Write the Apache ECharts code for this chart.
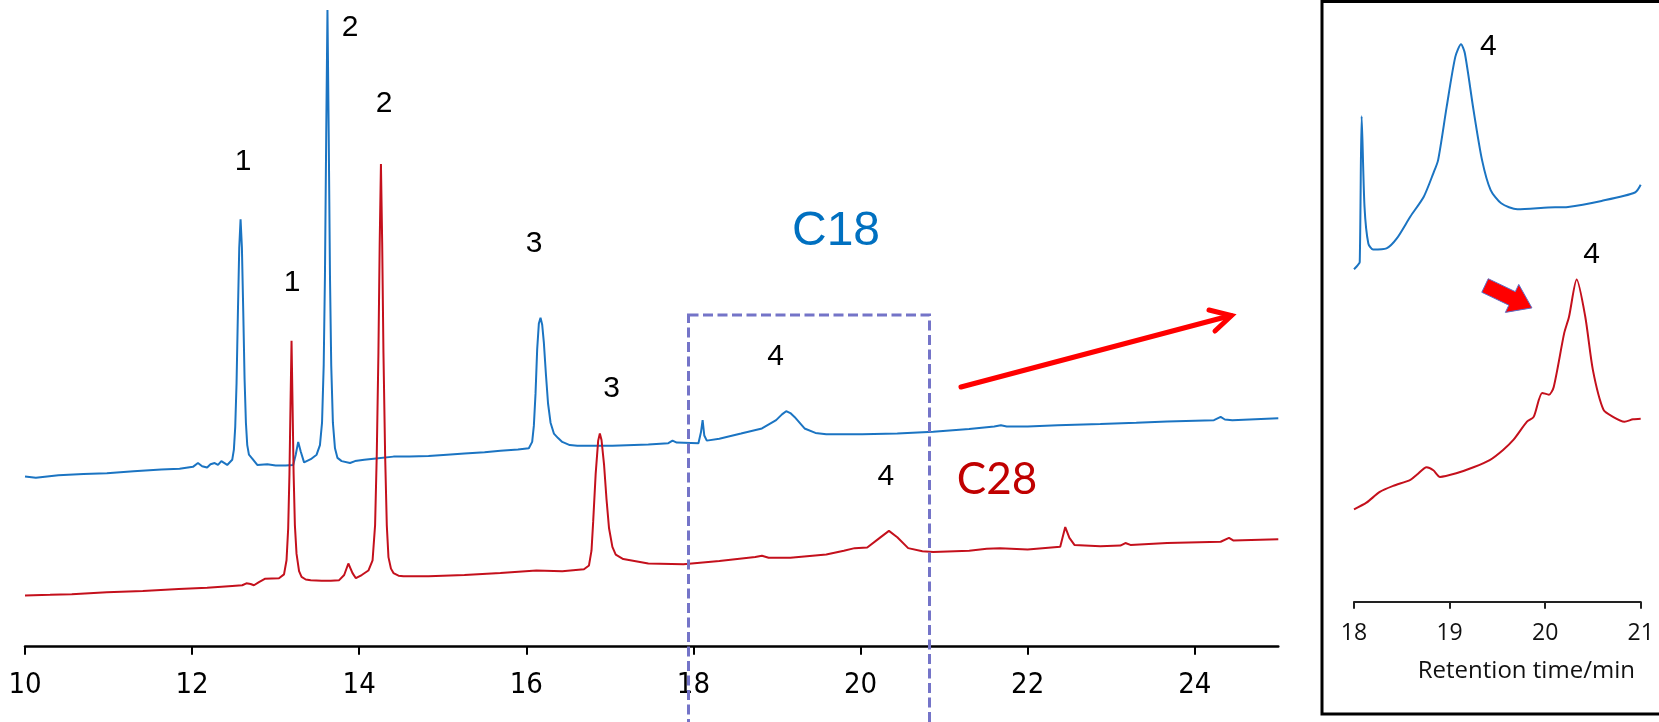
<!DOCTYPE html>
<html>
<head>
<meta charset="utf-8">
<script src="https://cdn.jsdelivr.net/npm/echarts@6/dist/echarts.min.js"></script>
<style>
html,body{margin:0;padding:0;background:#fff;}
#chart{width:1659px;height:722px;}
</style>
</head>
<body>
<div id="chart"></div>
<script>
// ---- main chromatogram (retention time / min, signal in arbitrary units) ----
const c18Time = [10.00,10.13,10.40,10.70,10.98,11.30,11.63,11.85,12.01,12.07,12.12,12.18,12.22,12.27,12.31,12.35,12.42,12.48,
  12.50,12.516,12.532,12.548,12.564,12.58,12.596,12.612,12.628,12.644,12.66,12.68,12.72,12.78,12.90,13.00,13.12,13.21,13.24,13.27,13.30,13.34,13.42,13.49,
  13.53,13.555,13.575,13.59,13.605,13.62,13.635,13.65,13.665,13.685,13.71,13.74,13.79,13.89,13.95,14.06,14.20,14.41,14.60,14.83,15.05,15.26,15.50,15.69,15.90,16.03,
  16.07,16.09,16.11,16.13,16.15,16.17,16.19,16.21,16.235,16.26,16.29,16.33,16.38,16.43,16.52,16.61,17.03,17.46,17.70,17.75,17.80,18.06,18.09,18.11,18.13,18.16,
  18.31,18.57,18.82,18.99,19.06,19.11,19.16,19.21,19.33,19.46,19.59,20.02,20.44,20.87,21.30,21.60,21.68,21.75,22.00,22.36,22.87,23.30,23.67,24.23,24.31,24.36,24.45,25.00];
const c18Signal = [26.6,26.4,26.8,27.0,27.1,27.4,27.7,27.8,28.1,28.7,28.2,28.0,28.5,28.7,28.4,29.0,28.4,29.2,
  30.8,34.3,41.2,52.1,62.3,66.8,62.4,52.5,41.8,35.0,31.5,30.0,29.4,28.4,28.5,28.3,28.3,28.4,30.0,32.0,30.5,28.8,29.3,30.0,
  31.5,35,44,58,80,99.5,80,58,44,35,31,29.5,29.0,28.7,29.0,29.2,29.4,29.7,29.7,29.8,30.0,30.2,30.4,30.6,30.8,31.0,
  32.0,34.5,39.5,46.5,50.5,51.4,50.3,47.5,42.5,38.0,35.0,33.3,32.6,32.0,31.5,31.4,31.4,31.6,31.8,32.2,31.9,31.8,33.5,35.4,33.0,32.2,
  32.5,33.3,34.1,35.4,36.3,36.8,36.5,35.9,34.1,33.4,33.2,33.2,33.3,33.6,34.0,34.4,34.6,34.4,34.4,34.6,34.8,35.0,35.2,35.4,35.9,35.5,35.4,35.7];

const c28Time = [10.00,10.30,10.56,10.98,11.41,11.84,12.18,12.48,12.60,12.65,12.70,12.74,12.80,12.87,13.04,13.10,
  13.13,13.15,13.165,13.178,13.19,13.202,13.215,13.23,13.25,13.28,13.31,13.36,13.42,13.55,13.66,13.76,13.82,13.87,13.92,13.96,14.03,14.11,
  14.16,14.19,14.21,14.23,14.245,14.26,14.275,14.29,14.31,14.33,14.35,14.38,14.41,14.47,14.53,14.83,15.26,15.69,16.12,16.43,16.69,
  16.75,16.78,16.80,16.83,16.86,16.88,16.90,16.93,16.96,16.99,17.03,17.07,17.16,17.46,17.88,18.31,18.74,18.82,18.90,19.16,19.59,19.80,19.93,
  20.08,20.23,20.34,20.44,20.57,20.74,20.87,21.30,21.51,21.67,22.00,22.39,22.45,22.50,22.56,22.87,23.11,23.17,23.23,23.67,24.31,24.41,24.46,25.00];
const c28Signal = [8.0,8.1,8.2,8.5,8.7,9.0,9.2,9.5,9.6,9.9,9.8,9.6,10.1,10.6,10.7,11.3,
  13.5,18.5,27,38,47.8,38,27,19,14.5,11.8,10.9,10.5,10.4,10.3,10.3,10.4,11.2,13.0,11.5,10.7,11.2,11.9,
  13.5,19,30,46,63,75.4,63,46,30,19,14,12.2,11.5,11.1,11.0,11.0,11.2,11.5,11.9,11.8,12.1,
  12.7,15.0,19.5,27,32.2,33.3,32.3,28.5,23,18.5,15.6,14.4,13.7,13.0,12.9,13.4,14.0,14.2,13.9,13.9,14.4,15.0,15.4,
  15.5,17.0,18.1,17.1,15.4,14.9,14.8,15.0,15.3,15.4,15.2,15.6,18.7,17.0,15.9,15.7,15.8,16.2,15.9,16.2,16.4,17.0,16.6,16.8];

// ---- inset (18 - 21 min, rescaled) ----
const insetC18Time = [18.00,18.04,18.06,18.08,18.11,18.15,18.20,18.34,18.45,18.59,18.73,18.83,18.88,18.97,19.06,19.12,19.16,19.25,19.34,19.43,19.54,19.71,20.03,20.24,20.59,20.94,21.00];
const insetC18Signal = [55.4,56.1,56.6,80.9,65.8,59.7,58.7,58.9,60.6,64.2,67.5,71.4,73.6,82.5,90.8,92.9,91.4,82.0,73.6,68.6,66.4,65.4,65.7,65.8,66.8,68.2,69.5];
const insetC28Time = [18.00,18.13,18.27,18.41,18.59,18.66,18.76,18.83,18.90,19.07,19.25,19.42,19.56,19.67,19.81,19.88,19.97,20.04,20.09,20.20,20.25,20.33,20.42,20.50,20.61,20.71,20.83,20.92,21.00];
const insetC28Signal = [15.4,16.5,18.3,19.3,20.3,21.2,22.4,21.9,20.8,21.4,22.4,23.6,25.3,27.0,30.0,30.8,34.8,34.5,35.8,44.8,47.5,53.7,47.5,38.6,32.0,30.8,30.0,30.4,30.5];

// ---- tick labels ----
const mainTicks = [10,12,14,16,18,20,22,24];
const insetTicks = [18,19,20,21];
const insetAxisName = 'Retention time/min';

// ---- peak labels (text, x, y in px) ----
const peakLabels = [['1',243,161.7],['1',292,282.7],['2',350,27.3],['2',384,104],['3',534,243.3],['3',611.5,388.3],['4',775.5,356.5],['4',885.8,476.7],['4',1488.3,46.7],['4',1591.7,255]];

const zip = (a,b) => a.map((v,i) => [v,b[i]]);
const BLUE = '#1b74c2', RED = '#c4101c';

const chart = echarts.init(document.getElementById('chart'), null, {renderer:'canvas'});

// block arrow in inset
function blockArrow(cx, cy, deg) {
  const t = deg*Math.PI/180, dx = Math.cos(t), dy = Math.sin(t), nx = -dy, ny = dx;
  const loc = [[0,-7.5],[30,-7.5],[30,-15.5],[52,0],[30,15.5],[30,7.5],[0,7.5]];
  return loc.map(([L,W]) => [cx + L*dx + W*nx, cy + L*dy + W*ny]);
}

const graphics = [];
peakLabels.forEach(([t,x,y]) => graphics.push({type:'text', z:10, style:{text:t, x:x, y:y, textAlign:'center', textVerticalAlign:'middle', fontSize:30, fontFamily:'Liberation Sans, Arial, sans-serif', fill:'#000'}}));
graphics.push({type:'text', z:10, style:{text:'C18', x:836, y:232, textAlign:'center', textVerticalAlign:'middle', fontSize:48, fontFamily:'Liberation Sans, Arial, sans-serif', fill:'#0070c0'}});
graphics.push({type:'text', z:10, style:{text:'C28', x:997, y:480, textAlign:'center', textVerticalAlign:'middle', fontSize:44, fontFamily:'Lato, Open Sans, sans-serif', fill:'#c00000'}});
graphics.push({type:'rect', z:5, shape:{x:688.5, y:315, width:241, height:430}, style:{fill:null, stroke:'#7474c8', lineWidth:3, lineDash:[10,4.5]}});
graphics.push({type:'line', z:6, shape:{x1:961, y1:387, x2:1231, y2:315.5}, style:{stroke:'#ff0000', lineWidth:5, lineCap:'round'}});
graphics.push({type:'polyline', z:6, shape:{points:[[1209,310],[1231.5,315.5],[1215,331]]}, style:{stroke:'#ff0000', lineWidth:5, lineCap:'round', lineJoin:'miter', fill:null}});
graphics.push({type:'rect', z:5, shape:{x:1322, y:1.5, width:400, height:712.5}, style:{fill:null, stroke:'#000', lineWidth:3}});
graphics.push({type:'polygon', z:6, shape:{points:blockArrow(1485,285.5,25.5)}, style:{fill:'#ff0000', stroke:'#5a6fc8', lineWidth:1}});

const option = {
  animation:false,
  backgroundColor:'#fff',
  grid:[
    {left:25, right:380.7, top:6.7, bottom:75.3},
    {left:1354, right:18.3, top:1.7, bottom:120.3}
  ],
  xAxis:[
    {type:'value', gridIndex:0, min:10, max:25, interval:2,
     axisLine:{lineStyle:{color:'#000', width:2.5}},
     axisTick:{show:true, length:8, lineStyle:{color:'#000', width:2}, customValues:mainTicks},
     axisLabel:{customValues:mainTicks, margin:24, fontSize:29, lineHeight:29, color:'#000', fontFamily:'Liberation Sans Narrow, DejaVu Sans Condensed, sans-serif'},
     splitLine:{show:false}},
    {type:'value', gridIndex:1, min:18, max:21, interval:1,
     axisLine:{lineStyle:{color:'#222', width:2}},
     axisTick:{show:true, length:7, lineStyle:{color:'#222', width:2}, customValues:insetTicks},
     axisLabel:{customValues:insetTicks, margin:20, fontSize:23, lineHeight:23, color:'#111', fontFamily:'Open Sans, sans-serif'},
     name:insetAxisName, nameLocation:'middle', nameGap:57,
     nameTextStyle:{fontSize:24, color:'#111', fontFamily:'Open Sans, sans-serif', padding:[0,0,0,58]},
     splitLine:{show:false}}
  ],
  yAxis:[
    {type:'value', gridIndex:0, min:0, max:100, show:false},
    {type:'value', gridIndex:1, min:0, max:100, show:false}
  ],
  series:[
    {type:'line', name:'C18', xAxisIndex:0, yAxisIndex:0, data:zip(c18Time,c18Signal), showSymbol:false, lineStyle:{color:BLUE, width:2}, z:3},
    {type:'line', name:'C28', xAxisIndex:0, yAxisIndex:0, data:zip(c28Time,c28Signal), showSymbol:false, lineStyle:{color:RED, width:2}, z:3},
    {type:'line', name:'C18 inset', xAxisIndex:1, yAxisIndex:1, data:zip(insetC18Time,insetC18Signal), showSymbol:false, smooth:0.25, lineStyle:{color:BLUE, width:2}, z:3},
    {type:'line', name:'C28 inset', xAxisIndex:1, yAxisIndex:1, data:zip(insetC28Time,insetC28Signal), showSymbol:false, smooth:0.25, lineStyle:{color:RED, width:2}, z:3}
  ],
  graphic:graphics
};
chart.setOption(option);
</script>
</body>
</html>
